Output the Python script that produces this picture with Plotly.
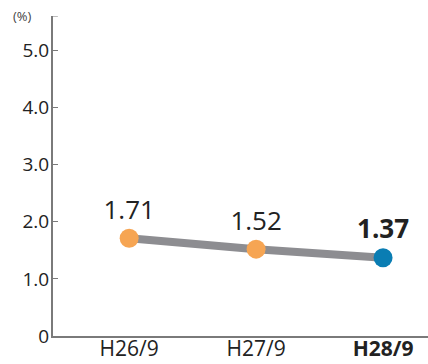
import plotly.graph_objects as go

periods = ["H26/9", "H27/9", "H28/9"]
rates = [1.71, 1.52, 1.37]
marker_colors = ["#F6A553", "#F6A553", "#0A7DB3"]
y_ticks = [0, 1, 2, 3, 4, 5]
y_tick_labels = ["0", "1.0", "2.0", "3.0", "4.0", "5.0"]

FONT = "Open Sans, Noto Sans, sans-serif"
x_pos = list(range(len(periods)))
latest = len(periods) - 1

point_labels = [
    f"<b>{v:.2f}</b>" if i == latest else f"{v:.2f}" for i, v in enumerate(rates)
]
tick_labels_x = [
    f"<b>{p}</b>" if i == latest else p for i, p in enumerate(periods)
]

fig = go.Figure()
fig.add_trace(go.Scatter(
    x=x_pos, y=rates, mode="lines",
    line=dict(color="#8D8D91", width=8),
    hoverinfo="skip", showlegend=False,
))
fig.add_trace(go.Scatter(
    x=x_pos, y=rates, mode="markers+text",
    marker=dict(size=19, color=marker_colors, line=dict(width=0)),
    text=point_labels, textposition="top center",
    textfont=dict(family=FONT, size=26, color="#222222"),
    showlegend=False,
))

fig.update_layout(
    width=428, height=364,
    margin=dict(l=53, r=0, t=16, b=28),
    paper_bgcolor="white", plot_bgcolor="white",
    font=dict(family=FONT, color="#333333"),
    xaxis=dict(
        range=[-0.6, 2.354], tickvals=x_pos, ticktext=tick_labels_x,
        showgrid=False, zeroline=False, showline=True,
        linecolor="#7A7A7A", linewidth=2, ticks="",
        tickfont=dict(family=FONT, size=21, color="#222222"),
        ticklabelstandoff=-7,
        automargin=False, fixedrange=True,
    ),
    yaxis=dict(
        range=[0, 5.6], tickvals=y_ticks, ticktext=y_tick_labels,
        showgrid=False, zeroline=False, showline=True,
        linecolor="#7A7A7A", linewidth=2,
        ticks="inside", ticklen=5, tickcolor="#7A7A7A", tickwidth=1,
        tickfont=dict(family=FONT, size=19, color="#222222"),
        ticklabelstandoff=-2,
        automargin=False, fixedrange=True,
    ),
    shapes=[dict(
        type="line", xref="paper", yref="y",
        x0=0, x1=0.013, y0=5.6, y1=5.6,
        line=dict(color="#7A7A7A", width=1),
    )],
    annotations=[dict(
        text="(%)", xref="paper", yref="paper",
        x=-0.05, y=1.0, xanchor="right", yanchor="middle",
        showarrow=False, font=dict(family=FONT, size=13, color="#444444"),
    )],
)

fig.write_html("out.html")
